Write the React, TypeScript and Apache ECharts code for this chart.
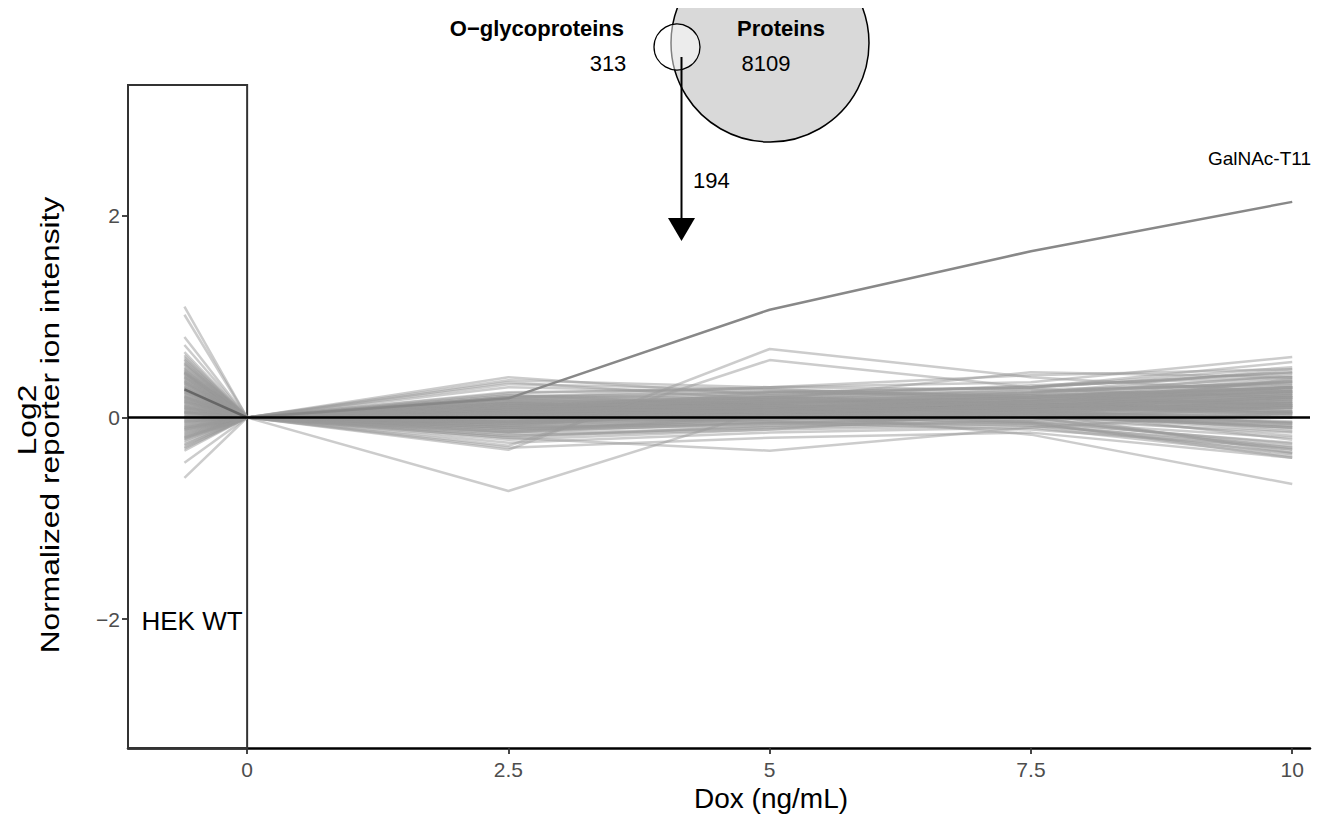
import React, { useEffect, useRef } from "react";
import * as echarts from "echarts";

// Dose positions: first is the HEK WT reference column, then Dox ng/mL
const doses = [-0.6, 0, 2.5, 5, 7.5, 10];
const xTicks = [0, 2.5, 5, 7.5, 10];
const yTicks = [-2, 0, 2];

// GalNAc-T11 profile
const galnacT11 = [0.28, 0, 0.19, 1.07, 1.65, 2.14];

// distinct light profiles (outliers)
const outlierProfiles = [
  [1.1, 0, 0.12, 0.05, 0.1, 0.2],
  [1.02, 0, 0.05, 0.1, 0.02, -0.05],
  [0.8, 0, 0.2, 0.15, 0.25, 0.35],
  [0.72, 0, -0.05, 0.02, 0.08, 0.12],
  [0.65, 0, 0.3, 0.25, 0.3, 0.45],
  [-0.45, 0, -0.1, -0.05, -0.12, -0.3],
  [-0.6, 0, 0.08, 0.12, 0.05, 0.0],
  [0.1, 0, -0.73, 0.08, 0.15, 0.3],
  [0.2, 0, -0.32, 0.68, 0.4, 0.25],
  [0.05, 0, -0.28, 0.57, 0.3, 0.5],
  [0.3, 0, 0.4, 0.22, 0.3, 0.55],
  [0.15, 0, 0.37, 0.3, 0.35, 0.6],
  [0.4, 0, 0.35, 0.18, 0.45, 0.4],
  [0.0, 0, 0.33, 0.28, 0.2, 0.3],
  [-0.1, 0, -0.3, -0.2, -0.15, -0.4],
  [0.25, 0, -0.2, -0.33, -0.1, 0.05],
  [0.05, 0, 0.1, 0.05, -0.17, -0.66],
  [0.12, 0, -0.05, 0.08, -0.05, -0.4],
  [-0.2, 0, -0.15, 0.0, 0.05, -0.35],
  [0.45, 0, 0.2, 0.3, 0.42, 0.48],
];

// dense core profiles
const coreProfiles = [
  [0.55, 0, 0.15, 0.2, 0.22, 0.3],
  [0.5, 0, 0.1, 0.12, 0.18, 0.25],
  [0.48, 0, 0.22, 0.18, 0.15, 0.2],
  [0.45, 0, -0.05, 0.05, 0.1, 0.15],
  [0.42, 0, 0.08, 0.15, 0.2, 0.35],
  [0.4, 0, 0.18, 0.1, 0.12, 0.05],
  [0.38, 0, -0.12, -0.02, 0.05, 0.1],
  [0.36, 0, 0.05, 0.08, 0.06, -0.1],
  [0.34, 0, 0.12, 0.22, 0.25, 0.4],
  [0.32, 0, 0.02, 0.0, 0.04, 0.12],
  [0.3, 0, -0.08, 0.06, 0.14, 0.22],
  [0.28, 0, 0.15, 0.12, 0.08, 0.02],
  [0.26, 0, 0.06, 0.18, 0.28, 0.32],
  [0.24, 0, -0.15, -0.05, 0.0, -0.08],
  [0.22, 0, 0.1, 0.05, 0.1, 0.18],
  [0.2, 0, 0.2, 0.25, 0.22, 0.28],
  [0.18, 0, 0.0, 0.1, 0.16, 0.26],
  [0.16, 0, -0.04, 0.02, -0.02, -0.15],
  [0.14, 0, 0.08, 0.14, 0.2, 0.3],
  [0.12, 0, 0.14, 0.08, 0.12, 0.1],
  [0.1, 0, -0.1, -0.06, 0.02, 0.06],
  [0.08, 0, 0.04, 0.12, 0.1, 0.2],
  [0.06, 0, 0.12, 0.2, 0.18, 0.14],
  [0.04, 0, -0.02, 0.04, 0.08, 0.16],
  [0.02, 0, 0.06, 0.0, -0.04, -0.2],
  [0.0, 0, 0.16, 0.15, 0.2, 0.24],
  [-0.02, 0, -0.06, 0.06, 0.12, 0.3],
  [-0.04, 0, 0.02, 0.1, 0.06, 0.0],
  [-0.06, 0, 0.1, 0.18, 0.24, 0.36],
  [-0.08, 0, -0.12, -0.08, -0.05, -0.25],
  [-0.1, 0, 0.04, 0.02, 0.1, 0.12],
  [-0.12, 0, 0.08, 0.16, 0.14, 0.08],
  [-0.14, 0, -0.08, 0.0, 0.04, -0.05],
  [-0.16, 0, 0.0, 0.08, 0.18, 0.22],
  [-0.18, 0, 0.14, 0.1, 0.06, -0.12],
  [-0.2, 0, -0.18, -0.1, -0.02, 0.04],
  [-0.22, 0, 0.06, 0.14, 0.22, 0.42],
  [-0.25, 0, -0.04, 0.04, 0.0, -0.3],
  [-0.28, 0, 0.1, 0.06, 0.12, 0.18],
  [-0.3, 0, -0.22, -0.12, -0.08, -0.35],
  [-0.33, 0, 0.02, 0.12, 0.16, 0.26],
  [0.6, 0, 0.25, 0.28, 0.2, 0.38],
  [0.58, 0, -0.2, -0.08, 0.02, 0.1],
  [0.52, 0, 0.05, 0.25, 0.3, 0.45],
  [0.35, 0, -0.25, -0.15, -0.1, -0.38],
  [0.27, 0, 0.24, 0.3, 0.28, 0.2],
  [0.15, 0, -0.18, -0.12, 0.05, 0.14],
  [0.05, 0, 0.22, 0.12, 0.02, -0.1],
  [-0.05, 0, -0.14, 0.02, 0.1, 0.05],
  [-0.15, 0, 0.18, 0.22, 0.26, 0.34],
  [0.44, 0, 0.0, -0.04, -0.08, -0.28],
  [0.33, 0, 0.08, 0.02, -0.06, -0.36],
  [0.21, 0, -0.02, 0.1, 0.08, -0.22],
  [0.09, 0, 0.12, 0.08, 0.0, -0.32],
  [-0.09, 0, 0.04, 0.16, 0.12, 0.02],
  [0.47, 0, 0.14, 0.06, 0.1, 0.28],
  [0.37, 0, 0.02, 0.14, 0.24, 0.48],
  [0.19, 0, 0.1, 0.2, 0.32, 0.4],
  [0.01, 0, -0.08, 0.08, 0.14, 0.08],
  [-0.11, 0, 0.06, 0.0, 0.06, 0.16],
  [0.62, 0, 0.1, 0.16, 0.12, 0.22],
  [0.57, 0, 0.02, 0.1, 0.14, 0.06],
  [0.53, 0, 0.18, 0.14, 0.2, 0.32],
  [0.49, 0, -0.1, 0.0, 0.06, -0.04],
  [0.46, 0, 0.06, 0.1, 0.16, 0.24],
  [0.43, 0, 0.12, 0.18, 0.1, 0.14],
  [0.39, 0, -0.02, 0.08, 0.18, 0.3],
  [0.31, 0, 0.16, 0.04, 0.08, -0.06],
  [0.29, 0, 0.04, 0.12, 0.06, 0.12],
  [0.25, 0, -0.06, 0.0, 0.1, 0.2],
  [0.23, 0, 0.08, 0.2, 0.14, 0.04],
  [0.17, 0, 0.02, 0.06, 0.12, 0.18],
  [0.13, 0, 0.1, 0.0, 0.04, -0.14],
  [0.11, 0, -0.04, 0.1, 0.2, 0.28],
  [0.07, 0, 0.06, 0.14, 0.08, 0.1],
  [0.03, 0, 0.14, 0.06, 0.16, 0.36],
  [-0.01, 0, -0.1, -0.02, 0.04, 0.0],
  [-0.03, 0, 0.08, 0.04, 0.02, -0.18],
  [-0.07, 0, 0.0, 0.12, 0.2, 0.26],
  [-0.13, 0, 0.12, 0.08, 0.1, 0.04],
  [-0.17, 0, -0.06, 0.04, 0.08, 0.14],
  [-0.19, 0, 0.04, 0.1, 0.04, -0.08],
  [-0.23, 0, 0.1, 0.18, 0.16, 0.3],
  [-0.27, 0, -0.12, -0.04, 0.02, -0.1],
  [-0.31, 0, 0.0, 0.06, 0.12, 0.2],
  [0.41, 0, 0.2, 0.26, 0.18, 0.12],
  [0.21, 0, -0.14, -0.06, -0.04, -0.26],
  [0.09, 0, 0.18, 0.24, 0.3, 0.44],
  [-0.04, 0, -0.16, -0.1, -0.06, -0.32],
  [0.34, 0, 0.06, 0.02, 0.1, 0.38],
  [0.16, 0, 0.0, -0.02, 0.0, 0.1],
  [0.54, 0, 0.12, 0.08, 0.04, 0.0],
  [-0.21, 0, 0.16, 0.2, 0.12, 0.22],
  [0.06, 0, -0.08, 0.02, 0.14, 0.24],
  [0.27, 0, 0.1, 0.16, 0.22, 0.12],
  [0.44, 0, 0.04, 0.12, 0.08, 0.18],
  [-0.12, 0, 0.02, 0.08, 0.1, 0.26],
  [0.18, 0, 0.14, 0.1, 0.16, 0.06],
  [0.0, 0, 0.04, 0.06, 0.0, -0.06],
  [0.36, 0, -0.04, 0.04, 0.12, 0.16],
];

const FONT = '"Liberation Sans", Arial, Helvetica, sans-serif';
const X_MIN = -1.14;
const X_MAX = 10.17;
const Y_MIN = -3.28;
const Y_MAX = 3.3;

function toSeriesData(p: number[], from = 0, to = doses.length) {
  return doses.slice(from, to).map((d, i) => [d, p[i + from]]);
}

export default function App() {
  const ref = useRef<HTMLDivElement>(null);

  useEffect(() => {
    if (!ref.current) return;
    const chart = echarts.init(ref.current, undefined, { renderer: "svg" });

    const profileSeries = [...coreProfiles, ...outlierProfiles].map((p, i) => ({
      type: "line",
      name: "p" + i,
      data: toSeriesData(p),
      showSymbol: false,
      silent: true,
      z: 2,
      lineStyle: { color: "rgba(153,153,153,0.5)", width: 2.5 },
    }));

    const txt = (x: number, y: number, text: string, font: string, align: string, extra: any = {}) => ({
      type: "text",
      x,
      y,
      z: 12,
      ...extra,
      style: { text, font, fill: "#000", textAlign: align, textVerticalAlign: "middle" },
    });

    const option: any = {
      animation: false,
      grid: { left: 128, right: 12, top: 85, bottom: 75, containLabel: false },
      xAxis: {
        type: "value",
        min: X_MIN,
        max: X_MAX,
        splitLine: { show: false },
        axisLine: { show: true, onZero: false, lineStyle: { color: "#000", width: 2.5 } },
        axisTick: { show: true, customValues: xTicks, length: 6, lineStyle: { color: "#333", width: 1.8 } },
        axisLabel: {
          customValues: xTicks,
          color: "#4d4d4d",
          fontSize: 21,
          fontFamily: FONT,
          margin: 11,
          formatter: (v: number) => String(v),
        },
      },
      yAxis: {
        type: "value",
        min: Y_MIN,
        max: Y_MAX,
        splitLine: { show: false },
        axisLine: { show: true, onZero: false, lineStyle: { color: "#333", width: 2 } },
        axisTick: { show: true, customValues: yTicks, length: 6, lineStyle: { color: "#333", width: 1.8 } },
        axisLabel: {
          customValues: yTicks,
          color: "#4d4d4d",
          fontSize: 21,
          fontFamily: FONT,
          margin: 8,
          formatter: (v: number) => (v < 0 ? "\u2212" + Math.abs(v) : String(v)),
        },
      },
      series: [
        ...profileSeries,
        {
          type: "line",
          name: "GalNAc-T11 WT",
          data: toSeriesData(galnacT11, 0, 2),
          showSymbol: false,
          silent: true,
          z: 3,
          lineStyle: { color: "#666", width: 2.5 },
        },
        {
          type: "line",
          name: "GalNAc-T11",
          data: toSeriesData(galnacT11, 1),
          showSymbol: false,
          silent: true,
          z: 3,
          lineStyle: { color: "#888", width: 2.5 },
        },
        {
          type: "line",
          name: "ref",
          data: [],
          silent: true,
          z: 5,
          markLine: {
            silent: true,
            symbol: "none",
            label: { show: false },
            lineStyle: { color: "#000", width: 2.5, type: "solid" },
            data: [{ yAxis: 0 }],
          },
          markArea: {
            silent: true,
            itemStyle: { color: "rgba(0,0,0,0)", borderColor: "#333", borderWidth: 2 },
            data: [[{ coord: [X_MIN, Y_MIN] }, { coord: [0, Y_MAX] }]],
          },
        },
      ],
      graphic: [
        {
          type: "circle",
          shape: { cx: 770, cy: 43, r: 99 },
          style: { fill: "#d9d9d9", stroke: "#000", lineWidth: 1.5 },
          z: 10,
        },
        {
          type: "circle",
          shape: { cx: 677, cy: 47, r: 23 },
          style: { fill: "rgba(255,255,255,0.5)", stroke: "#000", lineWidth: 1.3 },
          z: 11,
        },
        {
          type: "line",
          shape: { x1: 681.5, y1: 57, x2: 681.5, y2: 222 },
          style: { stroke: "#000", lineWidth: 2 },
          z: 12,
        },
        {
          type: "polygon",
          shape: { points: [[668, 218], [695, 218], [681.5, 241]] },
          style: { fill: "#000" },
          z: 12,
        },
        txt(624, 28, "O\u2212glycoproteins", `bold 22px ${FONT}`, "right"),
        txt(608, 63, "313", `22px ${FONT}`, "center"),
        txt(781, 28, "Proteins", `bold 22px ${FONT}`, "center"),
        txt(766, 63, "8109", `22px ${FONT}`, "center"),
        txt(693, 180, "194", `22px ${FONT}`, "left"),
        txt(1311, 158, "GalNAc-T11", `19px ${FONT}`, "right"),
        txt(192, 621, "HEK WT", `26px ${FONT}`, "center"),
        txt(771, 798, "Dox (ng/mL)", `28px ${FONT}`, "center"),
        txt(27, 420, "Log2", `26px ${FONT}`, "center", { rotation: Math.PI / 2, scaleX: 1.22 }),
        txt(50, 425, "Normalized reporter ion intensity", `26px ${FONT}`, "center", { rotation: Math.PI / 2, scaleX: 1.22 }),
      ],
    };

    chart.setOption(option);
    return () => chart.dispose();
  }, []);

  return <div ref={ref} style={{ width: 1322, height: 823, margin: -8 }} />;
}
